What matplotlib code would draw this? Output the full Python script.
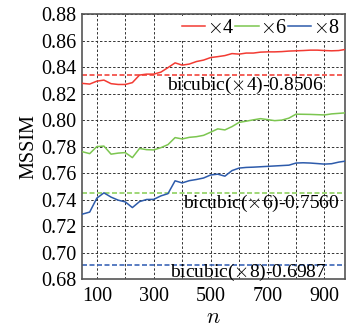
import numpy as np
import matplotlib
matplotlib.use('Agg')
import matplotlib.pyplot as plt
from matplotlib.ticker import MultipleLocator, FormatStrFormatter

plt.rcParams['font.family'] = ['Liberation Serif', 'DejaVu Serif']
plt.rcParams['mathtext.fontset'] = 'cm'

# 迭代次数 n
n = [50, 75, 100, 125, 150, 175, 200, 225, 250, 275, 300, 325, 350, 375, 400,
     425, 450, 475, 500, 525, 550, 575, 600, 625, 650, 675, 700, 725, 750, 775,
     800, 825, 850, 875, 900, 925, 950, 975]

# 各放大倍数下的 MSSIM
mssim_x4 = [0.8277, 0.8272, 0.8294, 0.8302, 0.8275, 0.8269, 0.8269, 0.8283, 0.8340, 0.8347,
            0.8347, 0.8362, 0.8396, 0.8432, 0.8415, 0.8423, 0.8442, 0.8453, 0.8472, 0.8479,
            0.8487, 0.8502, 0.8498, 0.8506, 0.8506, 0.8513, 0.8515, 0.8515, 0.8517, 0.8521,
            0.8523, 0.8525, 0.8528, 0.8528, 0.8525, 0.8523, 0.8525, 0.8534]
mssim_x6 = [0.7761, 0.7747, 0.7800, 0.7804, 0.7743, 0.7751, 0.7755, 0.7717, 0.7786, 0.7777,
            0.7775, 0.7792, 0.7815, 0.7868, 0.7858, 0.7870, 0.7875, 0.7885, 0.7909, 0.7934,
            0.7926, 0.7951, 0.7983, 0.7992, 0.8002, 0.8011, 0.8004, 0.7996, 0.8000, 0.8015,
            0.8045, 0.8044, 0.8043, 0.8041, 0.8039, 0.8047, 0.8051, 0.8055]
mssim_x8 = [0.7291, 0.7306, 0.7411, 0.7451, 0.7419, 0.7396, 0.7383, 0.7340, 0.7385, 0.7401,
            0.7402, 0.7428, 0.7445, 0.7542, 0.7526, 0.7543, 0.7552, 0.7563, 0.7586, 0.7592,
            0.7577, 0.7619, 0.7638, 0.7643, 0.7645, 0.7648, 0.7651, 0.7654, 0.7657, 0.7660,
            0.7676, 0.7678, 0.7676, 0.7672, 0.7668, 0.7671, 0.7683, 0.7691]

# bicubic 基线（按图中位置读取）和标注文字
bicubic_level = [0.8340, 0.7447, 0.6906]
bicubic_text = [r'bicubic($\times$4)-0.8506', r'bicubic($\times$6)-0.7560', r'bicubic($\times$8)-0.6987']
labels = [r'$\times$4', r'$\times$6', r'$\times$8']
colors = ['#f23b33', '#7cc650', '#2d5bab']

fig = plt.figure(figsize=(3.49, 3.28), dpi=100)
ax = fig.add_axes([0.235, 0.149, 0.7535, 0.808])

for y, lab, c in zip([mssim_x4, mssim_x6, mssim_x8], labels, colors):
    ax.plot(n, y, color=c, lw=1.1, label=lab, zorder=3)

dash_colors = ['#f2453d', '#8fd160', '#3c66b8']
for lvl, c in zip(bicubic_level, dash_colors):
    ax.axhline(lvl, color=c, lw=1.2, linestyle=(0, (3, 1.5)), zorder=2)

ax.text(346, 0.8264, bicubic_text[0], fontsize=14, ha='left', va='center')
ax.text(402, 0.7374, bicubic_text[1], fontsize=14, ha='left', va='center')
ax.text(357, 0.6848, bicubic_text[2], fontsize=14, ha='left', va='center')

ax.set_xlim(48, 972)
ax.set_ylim(0.68, 0.88)
ax.xaxis.set_major_locator(MultipleLocator(200))
ax.xaxis.set_minor_locator(MultipleLocator(100))
ax.set_xticks([100, 300, 500, 700, 900])
ax.yaxis.set_major_locator(MultipleLocator(0.02))
ax.yaxis.set_major_formatter(FormatStrFormatter('%.2f'))
ax.grid(True, which='both', color='#333333', lw=0.7, linestyle=(0, (2.5, 2)))
ax.tick_params(which='both', length=0, labelsize=14.5)
ax.tick_params(axis='y', pad=4)
ax.tick_params(axis='x', pad=6)

for s in ax.spines.values():
    s.set_color('#555555')
    s.set_linewidth(1.2)

ax.set_ylabel('MSSIM', fontsize=14.5, labelpad=2)
ax.set_xlabel('$n$', fontsize=16, labelpad=2)

leg = ax.legend(loc='upper right', ncol=3, fontsize=14.5, frameon=True, fancybox=False,
                handlelength=1.15, handletextpad=0.08, columnspacing=0.05,
                borderpad=0.15, borderaxespad=0.1)
leg.get_frame().set_edgecolor('none')
leg.get_frame().set_facecolor('white')
leg.get_frame().set_alpha(1)

plt.savefig('out.png', dpi=100)
